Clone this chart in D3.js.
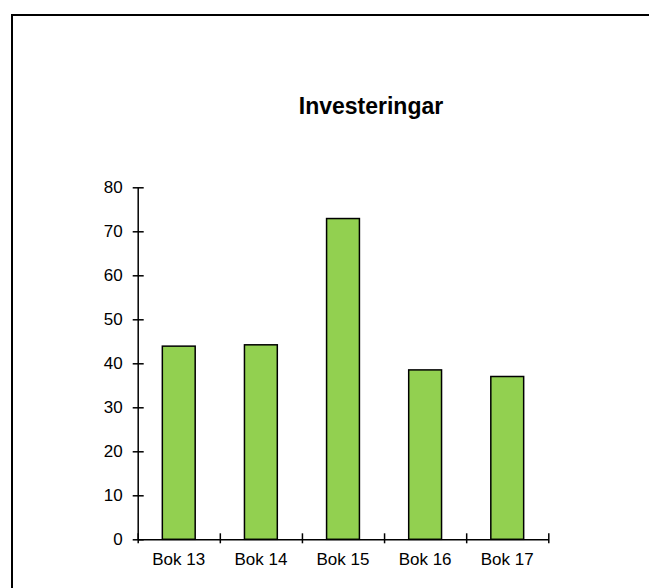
<!DOCTYPE html>
<html>
<head>
<meta charset="utf-8">
<script src="https://cdn.jsdelivr.net/npm/d3@7"></script>
<style>
  html, body { margin: 0; padding: 0; background: #fff; }
  svg { display: block; font-family: "Liberation Sans", Arial, sans-serif; }
</style>
</head>
<body>
<svg id="chart" width="649" height="588"></svg>
<script>
// data
const categories = ['Bok 13', 'Bok 14', 'Bok 15', 'Bok 16', 'Bok 17'];
const values = [43.9, 44.2, 72.9, 38.5, 37.0];
const yTicks = [0, 10, 20, 30, 40, 50, 60, 70, 80];
const title = 'Investeringar';

const svg = d3.select('#chart');

// chart frame (runs off the right and bottom edge)
svg.append('rect')
  .attr('x', 12).attr('y', 15)
  .attr('width', 800).attr('height', 800)
  .attr('fill', '#fff')
  .attr('stroke', '#000')
  .attr('stroke-width', 2);

// title
svg.append('text')
  .attr('x', 371).attr('y', 114)
  .attr('text-anchor', 'middle')
  .attr('font-size', 23)
  .attr('font-weight', 'bold')
  .text(title);

const plotLeft = 137.7, plotRight = 548.3, plotTop = 187.3, plotBottom = 539.3;

const y = d3.scaleLinear().domain([0, 80]).range([plotBottom, plotTop]);
const x = d3.scaleBand().domain(categories).range([plotLeft, plotRight])
  .paddingInner(0.6).paddingOuter(0.3);
// boundaries between categories, for the tick marks
const xb = d3.scaleLinear().domain([0, categories.length]).range([plotLeft, plotRight]);

// bars
svg.append('g').selectAll('rect')
  .data(values)
  .join('rect')
  .attr('x', (d, i) => x(categories[i]))
  .attr('y', d => y(d))
  .attr('width', x.bandwidth())
  .attr('height', d => y(0) - y(d))
  .attr('fill', '#92D050')
  .attr('stroke', '#000')
  .attr('stroke-width', 1.5);

// y axis, cross ticks
const gy = svg.append('g')
  .attr('class', 'yAxis')
  .attr('transform', `translate(${plotLeft},0)`)
  .call(d3.axisLeft(y).tickValues(yTicks).tickSize(5).tickSizeOuter(0).tickPadding(10));
gy.select('.domain').attr('stroke-width', 1.5);
gy.selectAll('.tick line').attr('x1', 6).attr('stroke-width', 1.5);
gy.selectAll('.tick text').attr('font-size', 17).attr('fill', '#000');
gy.attr('font-family', null).attr('font-size', null);

// x axis line + boundary ticks
const gx = svg.append('g')
  .attr('class', 'xAxis')
  .attr('transform', `translate(0,${plotBottom})`)
  .call(d3.axisBottom(xb).ticks(categories.length).tickSize(4).tickSizeOuter(0).tickFormat(''));
gx.select('.domain').attr('stroke-width', 1.5);
gx.selectAll('.tick line').attr('y1', -6).attr('stroke-width', 1.5);

// category labels
svg.append('g').selectAll('text')
  .data(categories)
  .join('text')
  .attr('x', d => x(d) + x.bandwidth() / 2)
  .attr('y', 565)
  .attr('text-anchor', 'middle')
  .attr('font-size', 17)
  .text(d => d);
</script>
</body>
</html>
